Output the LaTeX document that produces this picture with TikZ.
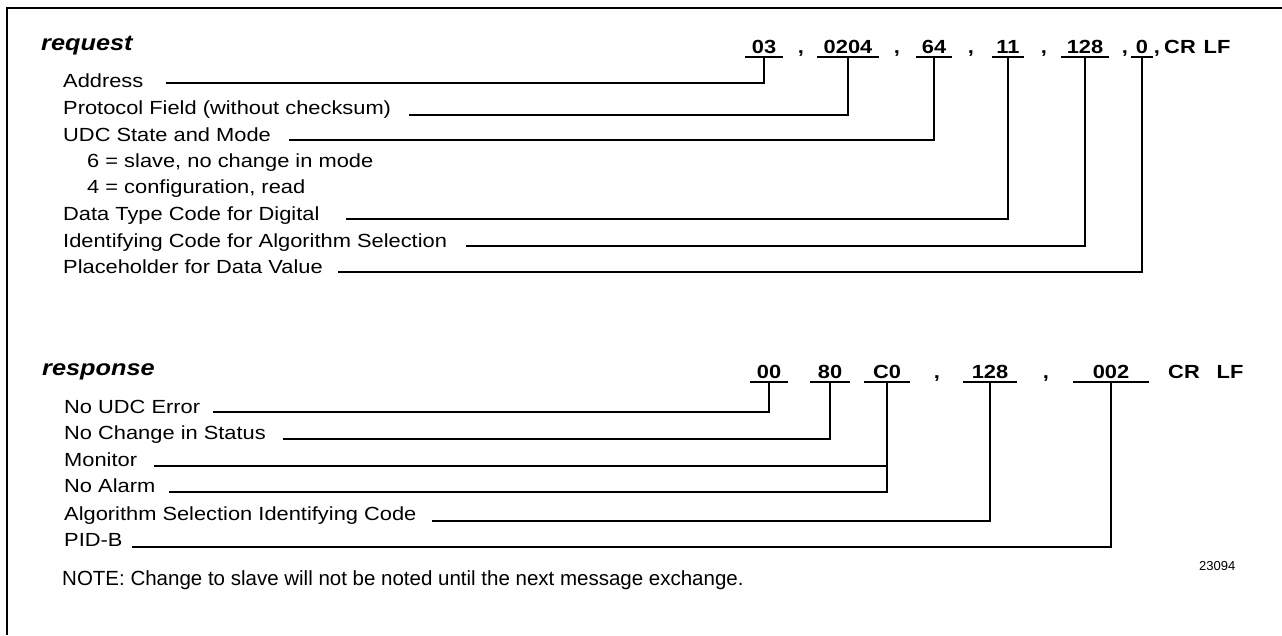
\documentclass[tikz,border=0pt]{standalone}
\usepackage{fontspec}
\setmainfont[FakeStretch=1.15]{Liberation Sans}
\newfontfamily\notefont{Liberation Sans}
\usetikzlibrary{positioning,calc}

\begin{document}
\begin{tikzpicture}[
  x=1pt, y=-1pt,
  item/.style={anchor=base west, inner sep=0pt, font=\fontsize{19}{23}\selectfont},
  head/.style={anchor=base west, inner sep=0pt, font=\fontsize{22}{26}\selectfont\bfseries\itshape},
  field/.style={anchor=base, inner xsep=0pt, inner ysep=0pt, text depth=4pt, minimum width=#1,
    font=\fontsize{19}{23}\selectfont\bfseries},
  sep/.style={anchor=base, inner sep=0pt, font=\fontsize{19}{23}\selectfont\bfseries},
  uline/.style={line width=2pt},
  conn/.style={line width=2pt}
]
  \useasboundingbox (0,0) rectangle (1282,635);
  \draw[line width=1.5pt] (7,635) -- (7,8) -- (1282,8);

  % request
  \node[head] (req) at (41,50) {request};
  \node[field=37pt] (q03) at (764,53) {03};
  \node[sep] (s1) at (801,53) {,};
  \node[field=61pt] (q0204) at (848,53) {0204};
  \node[sep] (s2) at (897,53) {,};
  \node[field=36pt] (q64) at (934,53) {64};
  \node[sep] (s3) at (971,53) {,};
  \node[field=31pt] (q11) at (1008,53) {11};
  \node[sep] (s4) at (1044,53) {,};
  \node[field=47pt] (q128) at (1085,53) {128};
  \node[sep] (s5) at (1125,53) {,};
  \node[field=22pt] (q0) at (1142,53) {0};
  \node[sep] (s6) at (1157,53) {,};
  \node[sep] (qcr) at (1180,53) {CR};
  \node[sep] (qlf) at (1217,53) {LF};
  \foreach \f in {q03,q0204,q64,q11,q128,q0}
    \draw[uline] (\f.south west) -- (\f.south east);

  \node[item] (addr) at (63,87) {Address};
  \node[item] (prot) at (63,114) {Protocol Field (without checksum)};
  \node[item] (udc) at (63,141) {UDC State and Mode};
  \node[item] (mode6) at (87,167) {6 = slave, no change in mode};
  \node[item] (mode4) at (87,193) {4 = configuration, read};
  \node[item] (dtype) at (63,220) {Data Type Code for Digital};
  \node[item] (ident) at (63,247) {Identifying Code for Algorithm Selection};
  \node[item] (place) at (63,273) {Placeholder for Data Value};

  \coordinate (addrL) at (166,83);
  \coordinate (protL) at (409,115);
  \coordinate (udcL) at (289,140);
  \coordinate (dtypeL) at (346,219);
  \coordinate (identL) at (466,246);
  \coordinate (placeL) at (338,272);
  \draw[conn] (q03.south) |- (addrL);
  \draw[conn] (q0204.south) |- (protL);
  \draw[conn] (q64.south) |- (udcL);
  \draw[conn] (q11.south) |- (dtypeL);
  \draw[conn] (q128.south) |- (identL);
  \draw[conn] (q0.south) |- (placeL);

  % response
  \node[head] (resp) at (42,375) {response};
  \node[field=38pt] (r00) at (769,378) {00};
  \node[field=39pt] (r80) at (830,378) {80};
  \node[field=45pt] (rC0) at (887,378) {C0};
  \node[sep] (t1) at (937,378) {,};
  \node[field=53pt] (r128) at (990,378) {128};
  \node[sep] (t2) at (1046,378) {,};
  \node[field=76pt] (r002) at (1111,378) {002};
  \node[sep] (rcr) at (1184,378) {CR};
  \node[sep] (rlf) at (1230,378) {LF};
  \foreach \f in {r00,r80,rC0,r128,r002}
    \draw[uline] (\f.south west) -- (\f.south east);

  \node[item] (err) at (64,413) {No UDC Error};
  \node[item] (stat) at (64,439) {No Change in Status};
  \node[item] (mon) at (64,466) {Monitor};
  \node[item] (alarm) at (64,492) {No Alarm};
  \node[item] (alg) at (64,520) {Algorithm Selection Identifying Code};
  \node[item] (pid) at (64,546) {PID-B};

  \coordinate (errL) at (213,412);
  \coordinate (statL) at (283,439);
  \coordinate (monL) at (154,466);
  \coordinate (alarmL) at (169,492);
  \coordinate (algL) at (432,521);
  \coordinate (pidL) at (132,547);
  \draw[conn] (r00.south) |- (errL);
  \draw[conn] (r80.south) |- (statL);
  \draw[conn] (rC0.south) |- (alarmL);
  \draw[conn] (monL) -- (monL -| rC0.south);
  \draw[conn] (r128.south) |- (algL);
  \draw[conn] (r002.south) |- (pidL);

  \node[item, font=\notefont\fontsize{20.5}{24}\selectfont] (note) at (62,585)
    {NOTE: Change to slave will not be noted until the next message exchange.};
  \node[item, font=\notefont\fontsize{13}{15}\selectfont] (figno) at (1199,570) {23094};
\end{tikzpicture}
\end{document}
